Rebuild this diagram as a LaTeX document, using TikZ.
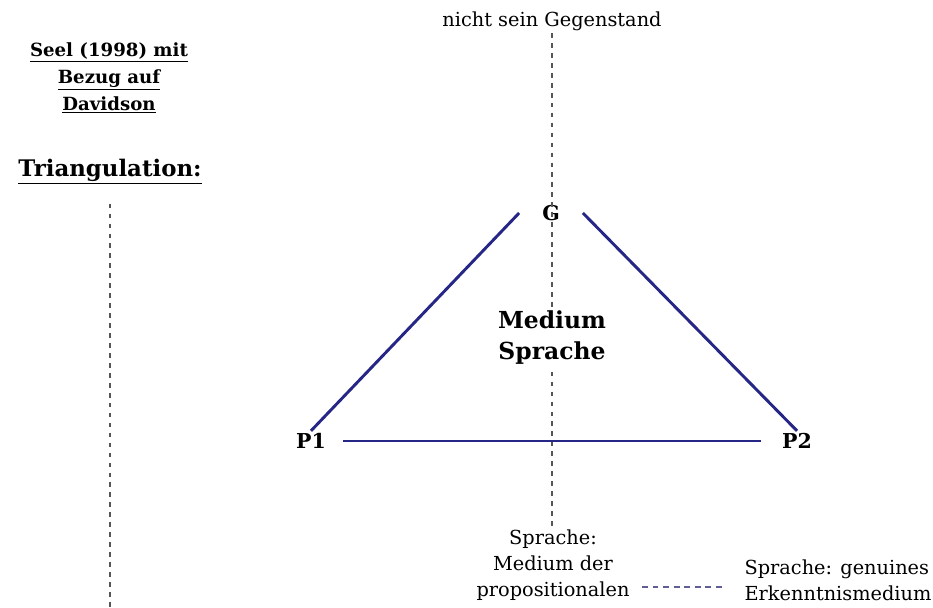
\documentclass[tikz,border=0pt]{standalone}
\usepackage{fontspec}
\setmainfont{DejaVu Serif}
\usetikzlibrary{calc}
\definecolor{triLine}{RGB}{38,38,135}
\definecolor{axisGray}{RGB}{85,85,85}
\definecolor{hintLine}{RGB}{95,95,150}
\tikzset{
    every node/.append style={align=center,inner sep=2pt},
    head/.style={font=\bfseries\fontsize{15.5}{23}\selectfont},
    title/.style={font=\bfseries\fontsize{19.5}{22}\selectfont},
    vertex/.style={font=\bfseries\fontsize{17.5}{20}\selectfont},
    inner/.style={font=\bfseries\fontsize{20}{26.5}\selectfont,fill=white,inner sep=1pt},
    note/.style={font=\fontsize{16.5}{22}\selectfont},
    side/.style={line width=2.5pt,draw=triLine},
    axis/.style={line width=1.7pt,draw=axisGray,dash pattern=on 4pt off 4.5pt},
    hint/.style={line width=1.2pt,draw=hintLine,dash pattern=on 5pt off 4pt}
}
\begin{document}
\begin{tikzpicture}[x=0.03cm,y=-0.03cm]
    \useasboundingbox (0,0) rectangle (933,607);
    \fill[white] (0,0) rectangle (933,607);

    \node[head]  (src)   at (109, 78) {\underline{Seel (1998) mit}\\\underline{Bezug auf}\\\underline{Davidson}};
    \node[title] (tri)   at (110,172) {\underline{Triangulation:}};
    \node[note]  (top)   at (552, 21) {nicht sein Gegenstand};
    \node[vertex,minimum width=1.9cm] (G) at (551,213) {G};
    \node[vertex] (P1)   at (311,441) {P1};
    \node[vertex] (P2)   at (797,441) {P2};
    \node[note]  (bot)   at (553,565) {Sprache:\\Medium der\\propositionalen};
    \node[note,align=left] (right) at (838,580) {Sprache: genuines\\Erkenntnismedium};
    \coordinate (leftend) at (110,607);

    \draw[axis] (top.south) -- (top.south |- bot.north);
    \node[inner] (med)   at (552,338) {Medium\\Sprache};
    \draw[axis,shorten <=0.5cm] (tri.south) -- (leftend);

    \draw[side] (G.west) -- (P1.north);
    \draw[side] (G.east) -- (P2.north);
    \draw[side,shorten <=0.45cm,shorten >=0.57cm] (P1.east) -- (P2.west);
    \draw[hint,shorten <=0.3cm,shorten >=0.6cm] ($(bot.east |- right.west)+(0,7)$) -- ($(right.west)+(0,7)$);
\end{tikzpicture}
\end{document}
